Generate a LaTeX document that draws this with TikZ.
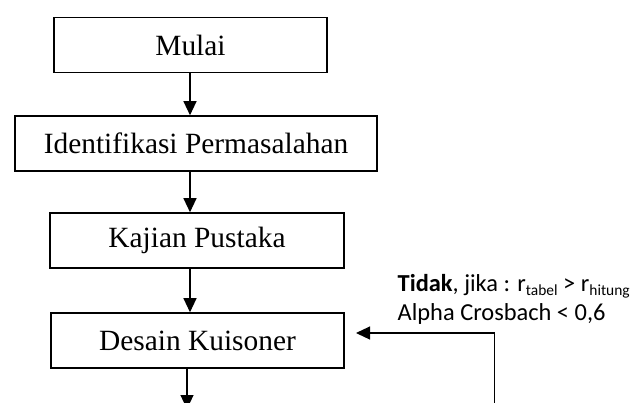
\documentclass[tikz,border=0pt]{standalone}
\usepackage{fontspec}
\setmainfont{Liberation Serif}
\newfontfamily\calibrifont{Carlito}
\usetikzlibrary{arrows.meta}

\tikzset{
  procbox/.style={draw, line width=1.6bp, inner sep=0pt,
    font=\fontsize{29.5}{33}\selectfont},
  flow/.style={line width=1.2bp, -{Triangle[length=14bp, width=13bp]}},
  note/.style={inner sep=0pt, anchor=base west,
    font=\calibrifont\fontsize{24.5}{29}\selectfont}
}
\newcommand{\lowsub}[1]{\raisebox{-4.5bp}{\fontsize{15.5}{16}\selectfont #1}}

\begin{document}
\begin{tikzpicture}[x=1bp, y=-1bp]
  \useasboundingbox (0,0) rectangle (635,402);
  \clip (0,0) rectangle (635,402);

  % process boxes
  \node[procbox, minimum width=273bp, minimum height=55bp] (mulai) at (190.5,45) {Mulai};
  \node[procbox, minimum width=362bp, minimum height=55bp] (ident) at (196,143.5) {Identifikasi Permasalahan};
  \node[procbox, minimum width=294bp, minimum height=55bp] (kajian) at (197,240.5) {Kajian Pustaka};
  \node[procbox, minimum width=293bp, minimum height=55bp] (desain) at (197.5,340.5) {Desain Kuisoner};

  % vertical flow lines
  \coordinate (ax) at (190,0);
  \coordinate (bx) at (187,0);
  \coordinate (next) at (187,409);
  \draw[flow] (mulai.south -| ax) -- (ident.north -| ax);
  \draw[flow] (ident.south -| ax) -- (kajian.north -| ax);
  \draw[flow] (kajian.south -| ax) -- (desain.north -| ax);
  \draw[flow] (desain.south -| bx) -- (next);

  % feedback loop
  \coordinate (fbstart) at (494.5,410);
  \coordinate (fbtip) at (356,333);
  \draw[flow] (fbstart) |- (fbtip);

  % condition label
  \node[note] (lbl1) at (397.5,291)
    {\textbf{Tidak}, jika : r\lowsub{tabel} > r\lowsub{hitung}};
  \node[note] (lbl2) at (397.5,320) {Alpha Crosbach < 0,6};
\end{tikzpicture}
\end{document}
